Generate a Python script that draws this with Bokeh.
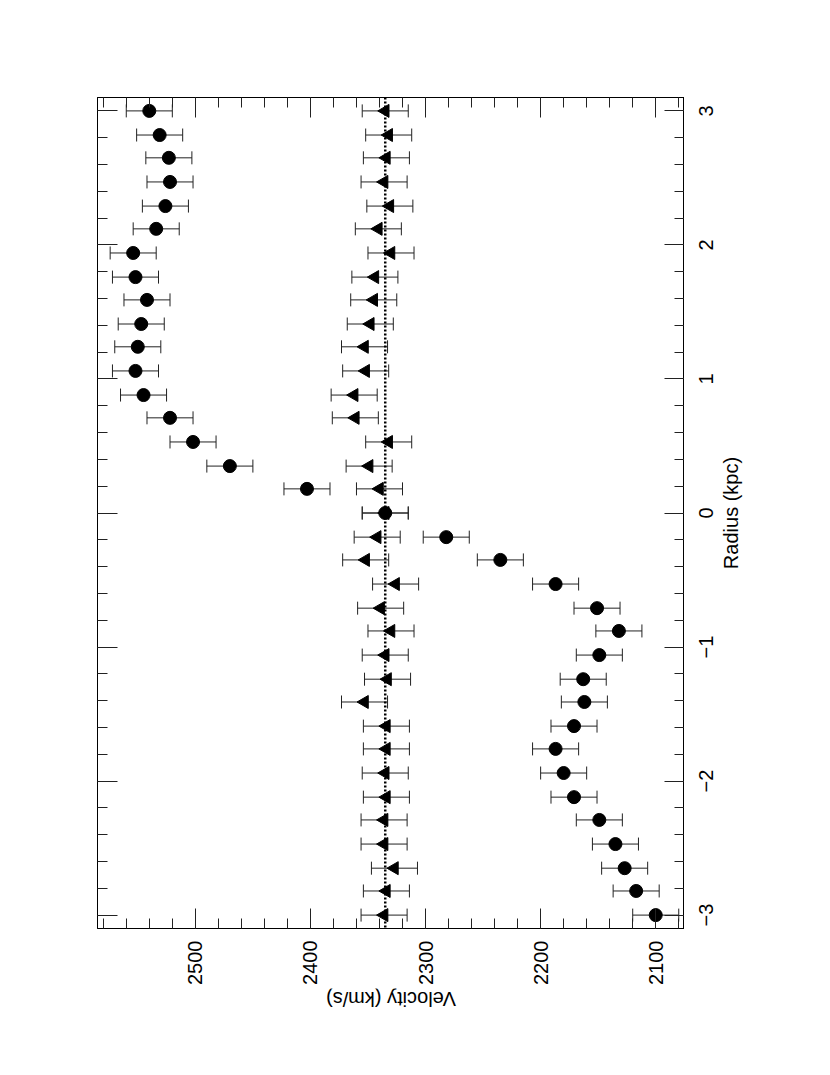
import math
from bokeh.plotting import figure
from bokeh.layouts import row, column
from bokeh.models import (Range1d, LinearAxis, SingleIntervalTicker, Whisker, TeeHead,
                          ColumnDataSource, Span, CustomJSTickFormatter)
from bokeh.core.properties import value
from bokeh.embed import file_html
from bokeh.resources import INLINE

# ---- data ----
radius = [-3.0, -2.82, -2.65, -2.47, -2.29, -2.12, -1.94, -1.76, -1.59, -1.41, -1.24, -1.06,
          -0.88, -0.71, -0.53, -0.35, -0.18, 0.0, 0.18, 0.35, 0.53, 0.71, 0.88, 1.06,
          1.24, 1.41, 1.59, 1.76, 1.94, 2.12, 2.29, 2.47, 2.65, 2.82, 3.0]
vel_circles = [2100, 2117, 2127, 2135, 2149, 2171, 2180, 2187, 2171, 2162, 2163, 2149,
               2132, 2151, 2187, 2235, 2282, 2335, 2403, 2470, 2502, 2522, 2545, 2552,
               2550, 2547, 2542, 2552, 2554, 2534, 2526, 2522, 2523, 2531, 2540]
err_circles = [20] * 35
vel_triangles = [2336, 2334, 2327, 2336, 2336, 2334, 2335, 2334, 2334, 2353, 2333, 2335,
                 2330, 2339, 2326, 2352, 2342, 2335, 2340, 2349, 2332, 2361, 2362, 2352,
                 2353, 2348, 2345, 2344, 2330, 2341, 2331, 2336, 2334, 2332, 2335]
err_triangles = [20] * 35
systemic_velocity = 2335

vel_ticks_interval = 100
radius_tick_values = [-3, -2, -1, 0, 1, 2, 3]
radius_tick_labels = ["\u22123", "\u22122", "\u22121", "0", "1", "2", "3"]
x_label = "Velocity (km/s)"
y_label = "Radius (kpc)"

FONT = "Liberation Sans"
VEL_RANGE = (2585, 2075)
RAD_RANGE = (-3.1, 3.1)

src_c = ColumnDataSource(dict(r=radius, v=vel_circles,
                              lo=[v - e for v, e in zip(vel_circles, err_circles)],
                              hi=[v + e for v, e in zip(vel_circles, err_circles)]))
src_t = ColumnDataSource(dict(r=radius, v=vel_triangles,
                              lo=[v - e for v, e in zip(vel_triangles, err_triangles)],
                              hi=[v + e for v, e in zip(vel_triangles, err_triangles)]))

# ---- main panel ----
p = figure(width=684, height=988,
           x_range=Range1d(*VEL_RANGE), y_range=Range1d(*RAD_RANGE),
           y_axis_location="right", output_backend="svg", toolbar_location=None,
           min_border_left=97, min_border_top=97, min_border_right=0, min_border_bottom=60)
p.xgrid.visible = False
p.ygrid.visible = False
p.outline_line_color = "black"
p.outline_line_width = 1
p.background_fill_color = "white"
p.border_fill_color = "white"


def style_axis(ax, labels=True):
    ax.major_tick_in = 20
    ax.major_tick_out = 0
    ax.minor_tick_in = 10
    ax.minor_tick_out = 0
    ax.axis_line_color = "black"
    ax.major_tick_line_color = "#222222"
    ax.minor_tick_line_color = "#222222"
    ax.major_label_text_font = FONT
    ax.major_label_text_color = "black"
    if labels:
        ax.major_label_text_font_size = "20px"
        ax.major_label_orientation = math.pi / 2
    else:
        ax.formatter = CustomJSTickFormatter(code="return ''")
        ax.major_label_standoff = 0
        ax.major_label_orientation = "horizontal"


p.xaxis.ticker = SingleIntervalTicker(interval=vel_ticks_interval, num_minor_ticks=5)
p.yaxis.ticker = SingleIntervalTicker(interval=1, num_minor_ticks=5)
for ax in p.xaxis:
    style_axis(ax)
    ax.major_label_standoff = 12
for ax in p.yaxis:
    style_axis(ax, labels=False)

top_ax = LinearAxis(ticker=SingleIntervalTicker(interval=vel_ticks_interval, num_minor_ticks=5))
style_axis(top_ax, labels=False)
p.add_layout(top_ax, "above")
left_ax = LinearAxis(ticker=SingleIntervalTicker(interval=1, num_minor_ticks=5))
style_axis(left_ax, labels=False)
p.add_layout(left_ax, "left")

p.add_layout(Span(location=systemic_velocity, dimension="height", line_color="black",
                  line_width=2.5, line_dash="2 2"))

for src in (src_c, src_t):
    w = Whisker(source=src, base="r", lower="lo", upper="hi", dimension="width",
                line_color="#222222", line_width=1,
                upper_head=TeeHead(size=13, line_color="#222222", line_width=1),
                lower_head=TeeHead(size=13, line_color="#222222", line_width=1))
    p.add_layout(w)

p.scatter("v", "r", source=src_t, marker="triangle", size=13, angle=math.pi / 2,
          fill_color="black", line_color="black")
p.scatter("v", "r", source=src_c, marker="circle", size=13,
          fill_color="black", line_color="black")

# ---- right strip: radius tick labels + axis title (reading bottom-to-top) ----
pr = figure(width=100, height=988, x_range=Range1d(0, 100), y_range=p.y_range,
            x_axis_location=None, y_axis_location=None, output_backend="svg",
            toolbar_location=None, min_border_left=0, min_border_right=0,
            min_border_top=97, min_border_bottom=60)
pr.xgrid.visible = False
pr.ygrid.visible = False
pr.outline_line_color = None
pr.border_fill_color = "white"
pr.text(x=[21] * len(radius_tick_values), y=radius_tick_values, text=radius_tick_labels,
        angle=math.pi / 2, text_align="center", text_baseline="middle",
        text_font=value(FONT), text_font_size=value("20px"), text_color="black")
pr.text(x=[46], y=[sum(RAD_RANGE) / 2], text=[y_label], angle=math.pi / 2,
        text_align="center", text_baseline="middle",
        text_font=value(FONT), text_font_size=value("20px"), text_color="black")

# ---- bottom strip: velocity axis title (upside down, as in the rotated page) ----
pb = figure(width=684, height=40, x_range=p.x_range, y_range=Range1d(0, 40),
            x_axis_location=None, y_axis_location=None, output_backend="svg",
            toolbar_location=None, min_border_left=97, min_border_right=0,
            min_border_top=0, min_border_bottom=0)
pb.xgrid.visible = False
pb.ygrid.visible = False
pb.outline_line_color = None
pb.border_fill_color = "white"
pb.text(x=[sum(VEL_RANGE) / 2], y=[30], text=[x_label], angle=math.pi,
        text_align="center", text_baseline="middle",
        text_font=value(FONT), text_font_size=value("20px"), text_color="black")

layout = column(row(p, pr), pb)
open("out.html", "w").write(file_html(layout, INLINE))
